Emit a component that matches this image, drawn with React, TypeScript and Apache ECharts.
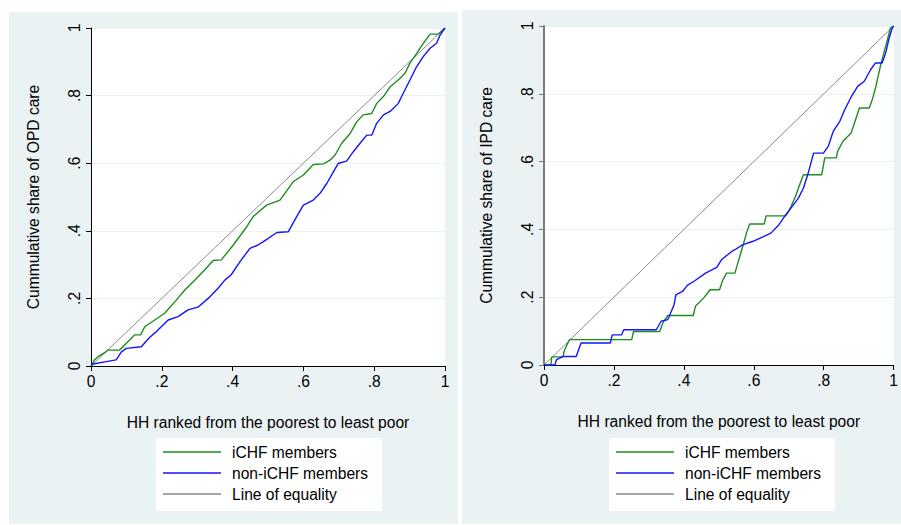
import React, { useEffect, useRef } from "react";
import * as echarts from "echarts";

const xTicks = [0, 0.2, 0.4, 0.6, 0.8, 1];
const equality = [[0, 0], [1, 1]];

const opdIchf = [
  [0, 0], [0.01, 0.018], [0.02, 0.028], [0.042, 0.042], [0.048, 0.047], [0.081, 0.047], [0.095, 0.062],
  [0.109, 0.077], [0.123, 0.092], [0.14, 0.092], [0.152, 0.116], [0.18, 0.136], [0.208, 0.156],
  [0.241, 0.195], [0.265, 0.225], [0.293, 0.254], [0.321, 0.284], [0.345, 0.312], [0.368, 0.314],
  [0.402, 0.358], [0.44, 0.412], [0.458, 0.442], [0.496, 0.476], [0.534, 0.491], [0.571, 0.545],
  [0.6, 0.565], [0.628, 0.596], [0.657, 0.598], [0.675, 0.609], [0.69, 0.625], [0.708, 0.659],
  [0.732, 0.688], [0.751, 0.723], [0.769, 0.743], [0.793, 0.747], [0.807, 0.777], [0.826, 0.797],
  [0.845, 0.826], [0.868, 0.846], [0.887, 0.866], [0.901, 0.896], [0.92, 0.925], [0.939, 0.955],
  [0.958, 0.982], [0.981, 0.982], [1, 1],
];

const opdNonIchf = [
  [0, 0], [0.006, 0.006], [0.043, 0.013], [0.071, 0.018], [0.086, 0.042], [0.1, 0.052], [0.142, 0.057],
  [0.166, 0.085], [0.184, 0.101], [0.218, 0.136], [0.246, 0.146], [0.274, 0.166], [0.302, 0.174],
  [0.331, 0.2], [0.359, 0.23], [0.378, 0.254], [0.396, 0.27], [0.421, 0.309], [0.449, 0.348],
  [0.472, 0.358], [0.487, 0.368], [0.525, 0.395], [0.557, 0.397], [0.581, 0.442], [0.6, 0.476],
  [0.628, 0.491], [0.647, 0.511], [0.666, 0.54], [0.685, 0.575], [0.699, 0.6], [0.722, 0.606],
  [0.741, 0.634], [0.76, 0.659], [0.779, 0.683], [0.793, 0.683], [0.807, 0.718], [0.826, 0.743],
  [0.845, 0.753], [0.868, 0.777], [0.882, 0.807], [0.901, 0.846], [0.92, 0.886], [0.939, 0.916],
  [0.958, 0.94], [0.976, 0.955], [0.986, 0.979], [1, 1],
];

const ipdIchf = [
  [0, 0], [0.02, 0], [0.022, 0.024], [0.054, 0.024], [0.059, 0.045], [0.073, 0.075], [0.251, 0.075],
  [0.256, 0.099], [0.331, 0.099], [0.34, 0.124], [0.354, 0.146], [0.427, 0.146], [0.433, 0.173],
  [0.457, 0.198], [0.475, 0.222], [0.502, 0.222], [0.51, 0.247], [0.522, 0.271], [0.546, 0.271],
  [0.553, 0.296], [0.56, 0.32], [0.571, 0.359], [0.579, 0.389], [0.588, 0.416], [0.63, 0.416],
  [0.635, 0.44], [0.691, 0.44], [0.7, 0.453], [0.719, 0.497], [0.733, 0.537], [0.742, 0.561],
  [0.794, 0.561], [0.803, 0.611], [0.836, 0.611], [0.84, 0.631], [0.855, 0.66], [0.878, 0.684],
  [0.888, 0.714], [0.902, 0.758], [0.93, 0.758], [0.939, 0.783], [0.948, 0.817], [0.963, 0.886],
  [0.977, 0.94], [0.991, 0.994], [1, 1],
];

const ipdNonIchf = [
  [0, 0], [0.031, 0], [0.036, 0.016], [0.054, 0.025], [0.092, 0.025], [0.106, 0.065], [0.19, 0.065],
  [0.195, 0.089], [0.222, 0.089], [0.228, 0.104], [0.321, 0.104], [0.335, 0.129], [0.354, 0.134],
  [0.358, 0.143], [0.372, 0.178], [0.377, 0.207], [0.396, 0.217], [0.41, 0.235], [0.429, 0.247],
  [0.462, 0.271], [0.494, 0.288], [0.508, 0.311], [0.537, 0.335], [0.546, 0.34], [0.569, 0.355],
  [0.598, 0.365], [0.626, 0.378], [0.649, 0.389], [0.672, 0.414], [0.691, 0.443], [0.71, 0.468],
  [0.728, 0.493], [0.742, 0.522], [0.757, 0.571], [0.771, 0.625], [0.799, 0.625], [0.813, 0.645],
  [0.827, 0.689], [0.846, 0.719], [0.86, 0.753], [0.879, 0.792], [0.897, 0.822], [0.916, 0.837],
  [0.934, 0.871], [0.948, 0.891], [0.967, 0.891], [0.977, 0.92], [0.986, 0.96], [0.996, 0.994], [1, 1],
];

const legendNames = ["iCHF members", "non-iCHF members", "Line of equality"];
const xTitle = "HH ranked from the poorest to least poor";
const yTitles = ["Cummulative share of OPD care", "Cummulative share of IPD care"];

const GREEN = "#1E8C1E";
const BLUE = "#1414FF";
const GRAY = "#8A8A8A";
const BG = "#EAF2F3";
const FONT = "'Liberation Sans', Arial, sans-serif";
const FS = 15.6;

const fmt = (v: number) => {
  const r = Number(v.toFixed(1));
  if (r === 0) return "0";
  if (r === 1) return "1";
  return String(r).replace(/^0/, "");
};

export default function App() {
  const ref = useRef<HTMLDivElement>(null);
  useEffect(() => {
    if (!ref.current) return;
    const chart = echarts.init(ref.current, null, { renderer: "svg" });
    const grids = [
      { left: 91, top: 28, width: 354, height: 338 },
      { left: 544, top: 26, width: 356, height: 339 },
    ];
    const yAxisColors = ["#000", "#7a7a7a"];
    const yAxisWidths = [1, 2];
    const xAxis = grids.map((_, i) => ({
      type: "value",
      gridIndex: i,
      min: 0,
      max: 1,
      interval: 0.2,
      axisLine: { show: true, onZero: false, lineStyle: { color: "#000", width: 1 } },
      axisTick: { show: true, length: 5, lineStyle: { color: "#000" } },
      axisLabel: { formatter: fmt, color: "#000", fontSize: FS, fontFamily: FONT, margin: 7 },
      splitLine: { show: false },
      name: xTitle,
      nameLocation: "middle",
      nameGap: 48,
      nameTextStyle: { color: "#000", fontSize: FS, fontFamily: FONT },
    }));
    const yAxis = grids.map((_, i) => ({
      type: "value",
      gridIndex: i,
      min: 0,
      max: 1,
      interval: 0.2,
      axisLine: { show: true, onZero: false, lineStyle: { color: yAxisColors[i], width: yAxisWidths[i] } },
      axisTick: { show: true, length: 5, lineStyle: { color: yAxisColors[i] } },
      axisLabel: { formatter: fmt, color: "#000", fontSize: FS, fontFamily: FONT, margin: 9, rotate: 90 },
      splitLine: { show: true, lineStyle: { color: BG, width: 1 } },
      name: yTitles[i],
      nameLocation: "middle",
      nameGap: 50,
      nameTextStyle: { color: "#000", fontSize: FS, fontFamily: FONT },
    }));
    const mk = (name: string, data: number[][], color: string, idx: number, width: number) => ({
      type: "line",
      name,
      data,
      xAxisIndex: idx,
      yAxisIndex: idx,
      symbol: "none",
      lineStyle: { color, width },
      itemStyle: { color },
      z: name === legendNames[2] ? 1 : 2,
    });
    const series = [
      mk(legendNames[2], equality, GRAY, 0, 1),
      mk(legendNames[0], opdIchf, GREEN, 0, 1.4),
      mk(legendNames[1], opdNonIchf, BLUE, 0, 1.4),
      mk(legendNames[2], equality, GRAY, 1, 1),
      mk(legendNames[0], ipdIchf, GREEN, 1, 1.4),
      mk(legendNames[1], ipdNonIchf, BLUE, 1, 1.4),
    ];
    const legendBase = {
      orient: "vertical",
      top: 438,
      backgroundColor: "#fff",
      padding: [6, 14, 9, 7],
      itemWidth: 58,
      itemHeight: 14,
      itemGap: 5,
      icon: "path://M0,0L58,0L58,1.5L0,1.5Z",
      data: legendNames,
      selectedMode: false,
      textStyle: { color: "#000", fontSize: FS, fontFamily: FONT, padding: [0, 0, 0, 6] },
    };
    chart.setOption({
      animation: false,
      backgroundColor: "#fff",
      graphic: [
        { type: "rect", shape: { x: 9, y: 12, width: 449, height: 512 }, style: { fill: BG }, z: -10, silent: true },
        { type: "rect", shape: { x: 462, y: 10, width: 450, height: 514 }, style: { fill: BG }, z: -10, silent: true },
      ],
      grid: grids.map((g) => ({ ...g, show: true, backgroundColor: "#fff", borderWidth: 0, containLabel: false })),
      xAxis,
      yAxis,
      legend: [
        { ...legendBase, left: 156 },
        { ...legendBase, left: 609 },
      ],
      series,
    });
    return () => chart.dispose();
  }, []);
  return (
    <div
      ref={ref}
      style={{ position: "absolute", left: 0, top: 0, width: 901, height: 525 }}
    />
  );
}
